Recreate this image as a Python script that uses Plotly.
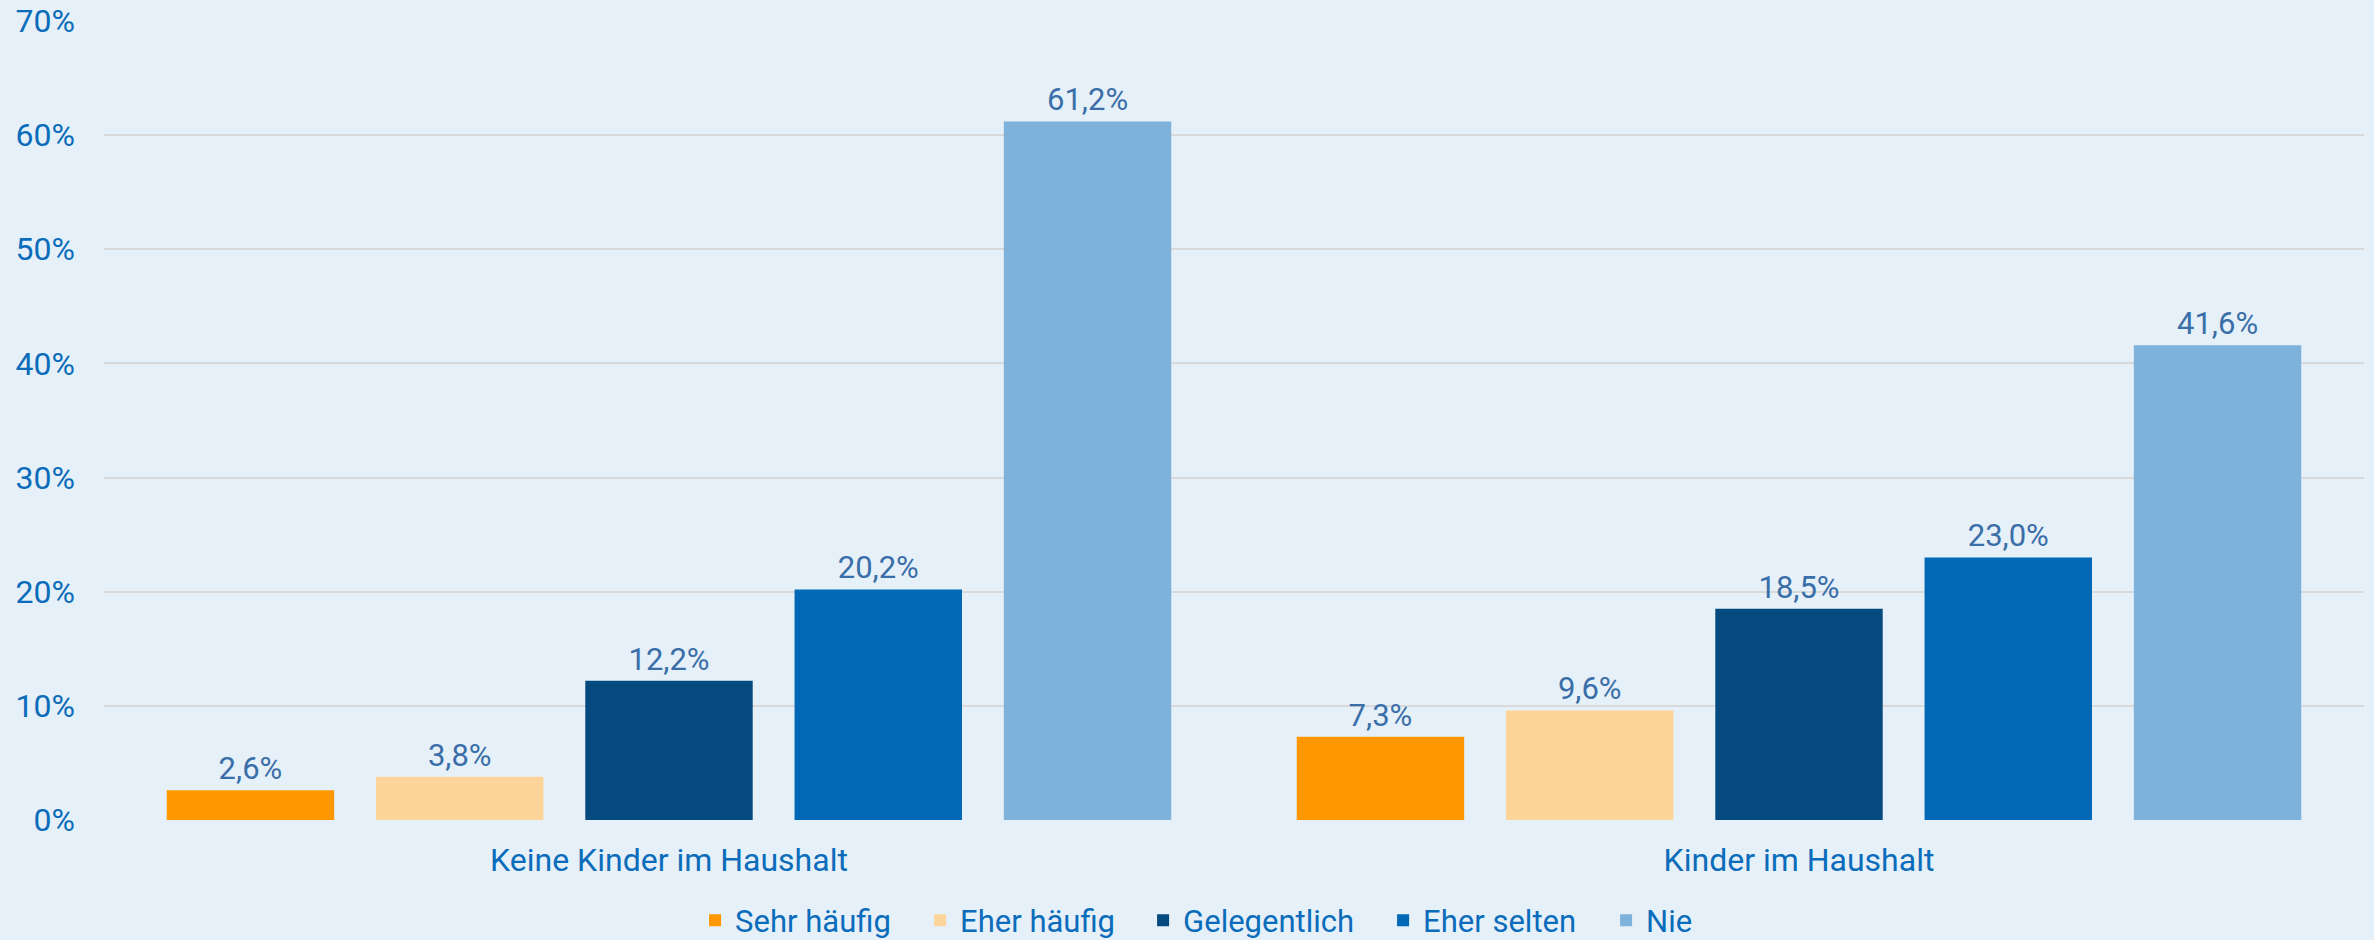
import plotly.graph_objects as go

categories = ["Keine Kinder im Haushalt", "Kinder im Haushalt"]
series_names = ["Sehr häufig", "Eher häufig", "Gelegentlich", "Eher selten", "Nie"]
sehr_haeufig = [2.6, 7.3]
eher_haeufig = [3.8, 9.6]
gelegentlich = [12.2, 18.5]
eher_selten = [20.2, 23.0]
nie = [61.2, 41.6]
tick_vals = [0, 10, 20, 30, 40, 50, 60, 70]
tick_text = ["0%", "10%", "20%", "30%", "40%", "50%", "60%", "70%"]

series_values = [sehr_haeufig, eher_haeufig, gelegentlich, eher_selten, nie]
colors = ["#FF9800", "#FDD59A", "#044A7F", "#0068B4", "#7FB2DA"]
legend_widths = [180, 178, 195, 178, 45]

fig = go.Figure()
for name, vals, col, lw in zip(series_names, series_values, colors, legend_widths):
    fig.add_trace(go.Bar(
        x=categories, y=vals, name=name,
        marker=dict(color=col, line=dict(width=0)),
        texttemplate="%{y:.1f}%", textposition="outside",
        textfont=dict(family="Roboto", size=31, color="#3A6EA8"),
        cliponaxis=False, legendwidth=lw,
    ))

fig.update_layout(
    width=2374, height=940,
    paper_bgcolor="#E6F0F8", plot_bgcolor="#E6F0F8",
    separators=",.",
    barmode="group", bargap=0.074, bargroupgap=0.2,
    margin=dict(l=104, r=10, t=21, b=120, autoexpand=False),
    font=dict(family="Roboto", color="#0A6CBA"),
    showlegend=True,
    legend=dict(orientation="h", x=0.483, xanchor="center", y=-0.126, yanchor="middle",
                font=dict(family="Roboto", size=31, color="#0A6CBA"),
                itemwidth=30, bgcolor="rgba(0,0,0,0)"),
    xaxis=dict(showgrid=False, showline=False, ticks="", automargin=False,
               tickfont=dict(family="Roboto", size=32, color="#0A6CBA"),
               ticklabelstandoff=18),
    yaxis=dict(range=[0, 70], tickvals=tick_vals, ticktext=tick_text,
               showgrid=True, gridcolor="#D9D9D9", gridwidth=2, automargin=False,
               zeroline=False, showline=False, ticks="",
               tickfont=dict(family="Roboto", size=32, color="#0A6CBA"),
               ticklabelstandoff=28),
)

fig.write_html("out.html", config={"displayModeBar": False},
               post_script="document.body.style.margin='0';document.body.style.background='#E6F0F8';")
